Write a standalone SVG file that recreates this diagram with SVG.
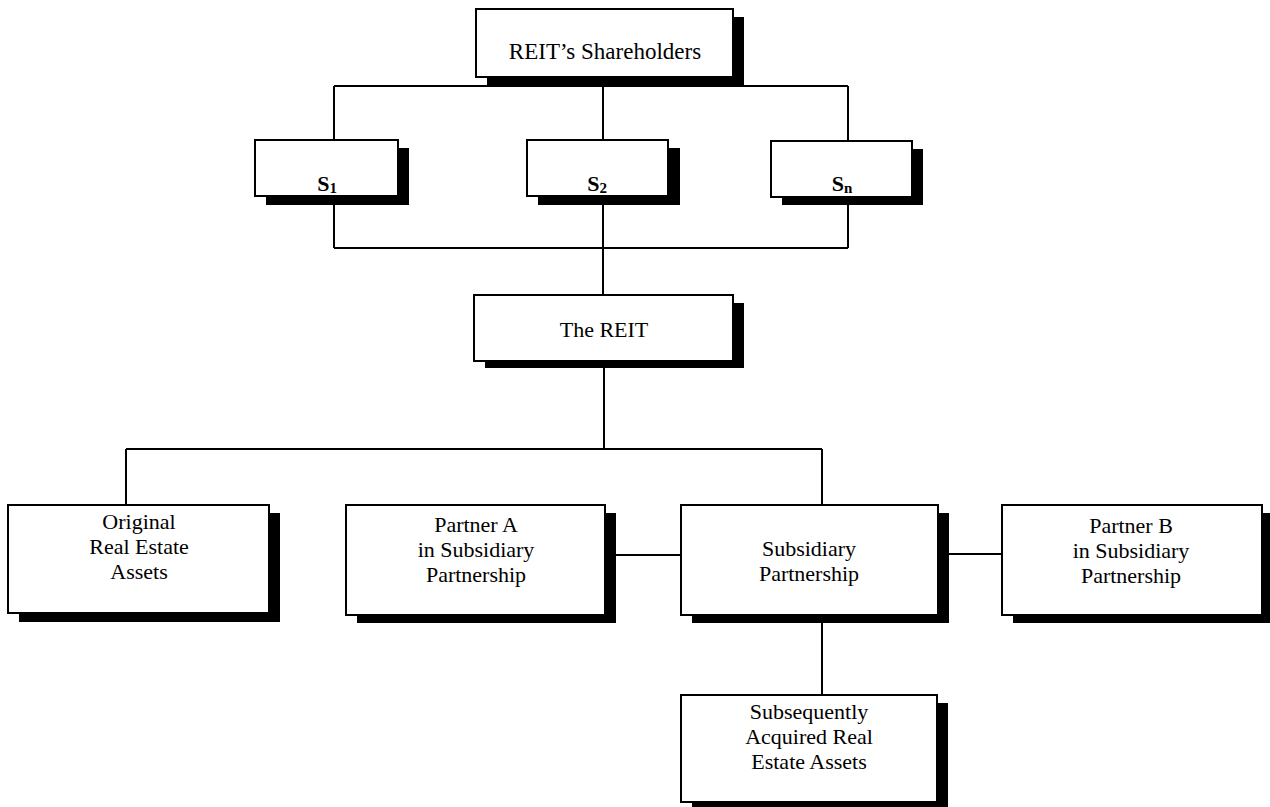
<svg xmlns="http://www.w3.org/2000/svg" width="1270" height="807" viewBox="0 0 1270 807">
<style>
.box{fill:#fff;stroke:#000;stroke-width:2}
.sh{fill:#000}
.t{font-family:"Liberation Serif","Times New Roman",serif;font-size:22px;fill:#000;text-anchor:middle}
.s{font-weight:bold}
.sub{font-size:15px}
.ln{fill:none;stroke:#000;stroke-width:2}
</style>
<rect width="1270" height="807" fill="#fff"/>
<g id="connectors">
<path class="ln" d="M604 77 V86 M334 86 H848 M334 86 V140 M603 86 V140 M848 86 V141"/>
<path class="ln" d="M334 205 V248 M848 205 V248 M334 248 H848 M603 196 V295"/>
<path class="ln" d="M604 361 V449 M126 449 H822 M126 449 V505 M822 449 V505"/>
<path class="ln" d="M605 555 H681 M938 554 H1002 M822 615 V695"/>
</g>
<g id="shareholders">
<rect class="sh" x="487" y="17" width="257" height="68"/>
<rect class="box" x="476" y="9" width="257" height="68"/>
<text class="t" x="605" y="59" style="font-size:23px">REIT’s Shareholders</text>
</g>
<g id="s1">
<rect class="sh" x="266" y="148" width="143" height="57"/>
<rect class="box" x="255" y="140" width="143" height="56"/>
<text class="t s" x="327" y="191">S<tspan class="sub" dy="2">1</tspan></text>
</g>
<g id="s2">
<rect class="sh" x="538" y="148" width="142" height="57"/>
<rect class="box" x="527" y="140" width="141" height="56"/>
<text class="t s" x="597" y="191">S<tspan class="sub" dy="2">2</tspan></text>
</g>
<g id="sn">
<rect class="sh" x="782" y="149" width="141" height="56"/>
<rect class="box" x="771" y="141" width="141" height="56"/>
<text class="t s" x="842" y="191">S<tspan class="sub" dy="2">n</tspan></text>
</g>
<g id="reit">
<rect class="sh" x="485" y="303" width="259" height="65"/>
<rect class="box" x="474" y="295" width="259" height="66"/>
<text class="t" x="604" y="337">The REIT</text>
</g>
<g id="original">
<rect class="sh" x="19" y="513" width="261" height="109"/>
<rect class="box" x="8" y="505" width="261" height="108"/>
<text class="t" x="139" y="529">Original</text>
<text class="t" x="139" y="554">Real Estate</text>
<text class="t" x="139" y="579">Assets</text>
</g>
<g id="partnerA">
<rect class="sh" x="357" y="513" width="259" height="110"/>
<rect class="box" x="346" y="505" width="259" height="110"/>
<text class="t" x="476" y="532">Partner A</text>
<text class="t" x="476" y="557">in Subsidiary</text>
<text class="t" x="476" y="582">Partnership</text>
</g>
<g id="subsidiary">
<rect class="sh" x="692" y="513" width="257" height="110"/>
<rect class="box" x="681" y="505" width="257" height="110"/>
<text class="t" x="809" y="556">Subsidiary</text>
<text class="t" x="809" y="581">Partnership</text>
</g>
<g id="partnerB">
<rect class="sh" x="1013" y="513" width="260" height="110"/>
<rect class="box" x="1002" y="505" width="260" height="110"/>
<text class="t" x="1131" y="533">Partner B</text>
<text class="t" x="1131" y="558">in Subsidiary</text>
<text class="t" x="1131" y="583">Partnership</text>
</g>
<g id="subsequent">
<rect class="sh" x="692" y="703" width="256" height="107"/>
<rect class="box" x="681" y="695" width="256" height="107"/>
<text class="t" x="809" y="719">Subsequently</text>
<text class="t" x="809" y="744">Acquired Real</text>
<text class="t" x="809" y="769">Estate Assets</text>
</g>
</svg>
